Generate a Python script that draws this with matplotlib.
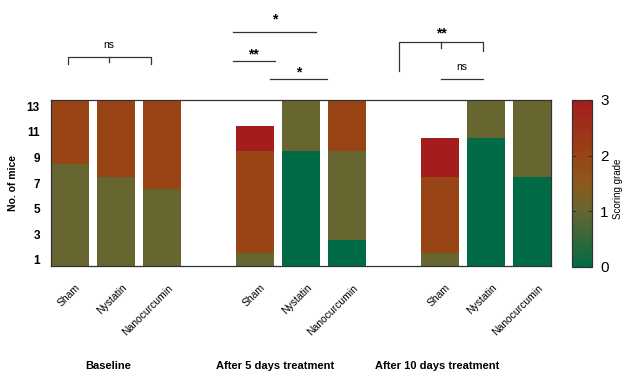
import numpy as np
import matplotlib
matplotlib.use("Agg")
import matplotlib.pyplot as plt
import matplotlib.transforms as mtransforms
from matplotlib.colors import LinearSegmentedColormap, Normalize
from matplotlib.cm import ScalarMappable

plt.rcParams['font.family'] = ['Liberation Sans', 'DejaVu Sans']

# ---------------------------------------------------------------- data
groups = ["Baseline", "After 5 days treatment", "After 10 days treatment"]
treatments = ["Sham", "Nystatin", "Nanocurcumin"]

# number of mice per scoring grade, columns: (group, treatment) in order
grade0 = [0, 0, 0, 0, 9, 2, 0, 10, 7]
grade1 = [8, 7, 6, 1, 4, 7, 1, 3, 6]
grade2 = [5, 6, 7, 8, 0, 4, 6, 0, 0]
grade3 = [0, 0, 0, 2, 0, 0, 3, 0, 0]
grades = [0, 1, 2, 3]

# ---------------------------------------------------------------- colours
cmap = LinearSegmentedColormap.from_list(
    "score",
    [(0.0, "#006b45"), (1 / 3, "#676530"), (0.5, "#8d5a1c"),
     (2 / 3, "#984414"), (1.0, "#a51c1c")])
norm = Normalize(0, 3)

fig = plt.figure(figsize=(6.24, 3.77), dpi=100)
ax = fig.add_axes([0.0817, 0.2944, 0.8013, 0.4403])
cax = fig.add_axes([0.9167, 0.2918, 0.032, 0.443])

# x position: one empty slot between groups
xpos = [g * 4 + t for g in range(len(groups)) for t in range(len(treatments))]
bar_w = 0.82

bottom = np.full(len(xpos), 0.5)
for grade, counts in zip(grades, [grade0, grade1, grade2, grade3]):
    counts = np.array(counts, dtype=float)
    ax.bar(xpos, counts, bottom=bottom, width=bar_w,
           color=cmap(norm(grade)), edgecolor='none', linewidth=0)
    bottom += counts

ax.set_xlim(-bar_w / 2, xpos[-1] + bar_w / 2)
ax.set_ylim(0.5, 13.5)
ax.set_yticks(np.arange(1, 14, 2))
ax.set_yticklabels([str(v) for v in range(1, 14, 2)], fontsize=8.5, fontweight='bold')
ax.tick_params(axis='y', length=0, pad=8)
ax.set_ylabel("No. of mice", fontsize=7.5, fontweight='bold', labelpad=6)

ax.set_xticks(xpos)
ax.set_xticklabels(treatments * len(groups), rotation=45, ha='right',
                   rotation_mode='anchor', fontsize=7.5)
ax.tick_params(axis='x', length=0, pad=12)
offset = mtransforms.ScaledTranslation(4 / 72, 0, fig.dpi_scale_trans)
for lbl in ax.get_xticklabels():
    lbl.set_transform(lbl.get_transform() + offset)

for sp in ax.spines.values():
    sp.set_color('#333333')
    sp.set_linewidth(0.9)

# group labels
trans = mtransforms.blended_transform_factory(ax.transData, fig.transFigure)
for gx, name in zip([0.82, 4.44, 7.94], groups):
    ax.text(gx, 0.029, name, transform=trans, ha='center', va='center',
            fontsize=8, fontweight='bold')

# ---------------------------------------------------------------- significance marks
lc = '#333333'
kw = dict(color=lc, lw=0.9, clip_on=False)

# baseline bracket
ax.plot([-0.05, -0.05, 1.75, 1.75], [16.3, 16.87, 16.87, 16.3], **kw)
ax.plot([0.85, 0.85], [16.87, 16.45], **kw)
ax.text(0.85, 17.8, "ns", ha='center', va='center', fontsize=7.5, clip_on=False)

# after 5 days
ax.plot([3.53, 5.33], [18.82, 18.82], **kw)
ax.text(4.44, 19.8, "*", ha='center', va='center', fontsize=10, fontweight='bold')
ax.plot([3.53, 4.44], [16.55, 16.55], **kw)
ax.text(3.98, 17.1, "**", ha='center', va='center', fontsize=10, fontweight='bold')
ax.plot([4.33, 5.56], [15.14, 15.14], **kw)
ax.text(4.94, 15.65, "*", ha='center', va='center', fontsize=10, fontweight='bold')

# after 10 days
ax.plot([7.12, 7.12, 8.94, 8.94], [15.77, 18.04, 18.04, 17.34], **kw)
ax.plot([8.03, 8.03], [18.04, 17.57], **kw)
ax.text(8.03, 18.75, "**", ha='center', va='center', fontsize=10, fontweight='bold')
ax.plot([8.03, 8.94], [15.14, 15.14], **kw)
ax.text(8.49, 16.08, "ns", ha='center', va='center', fontsize=7.5)

# ---------------------------------------------------------------- colorbar
sm = ScalarMappable(norm=norm, cmap=cmap)
cb = fig.colorbar(sm, cax=cax, ticks=[0, 1, 2, 3])
cb.outline.set_edgecolor('#333333')
cb.outline.set_linewidth(0.9)
cax.tick_params(direction='in', length=3, width=0.8, left=True, right=True,
                labelsize=11, pad=6, color='#333333')
fig.text(613 / 624, 0.5, "Scoring grade", rotation=90,
         ha='left', va='center', fontsize=7)

fig.savefig("out.png", dpi=100)
